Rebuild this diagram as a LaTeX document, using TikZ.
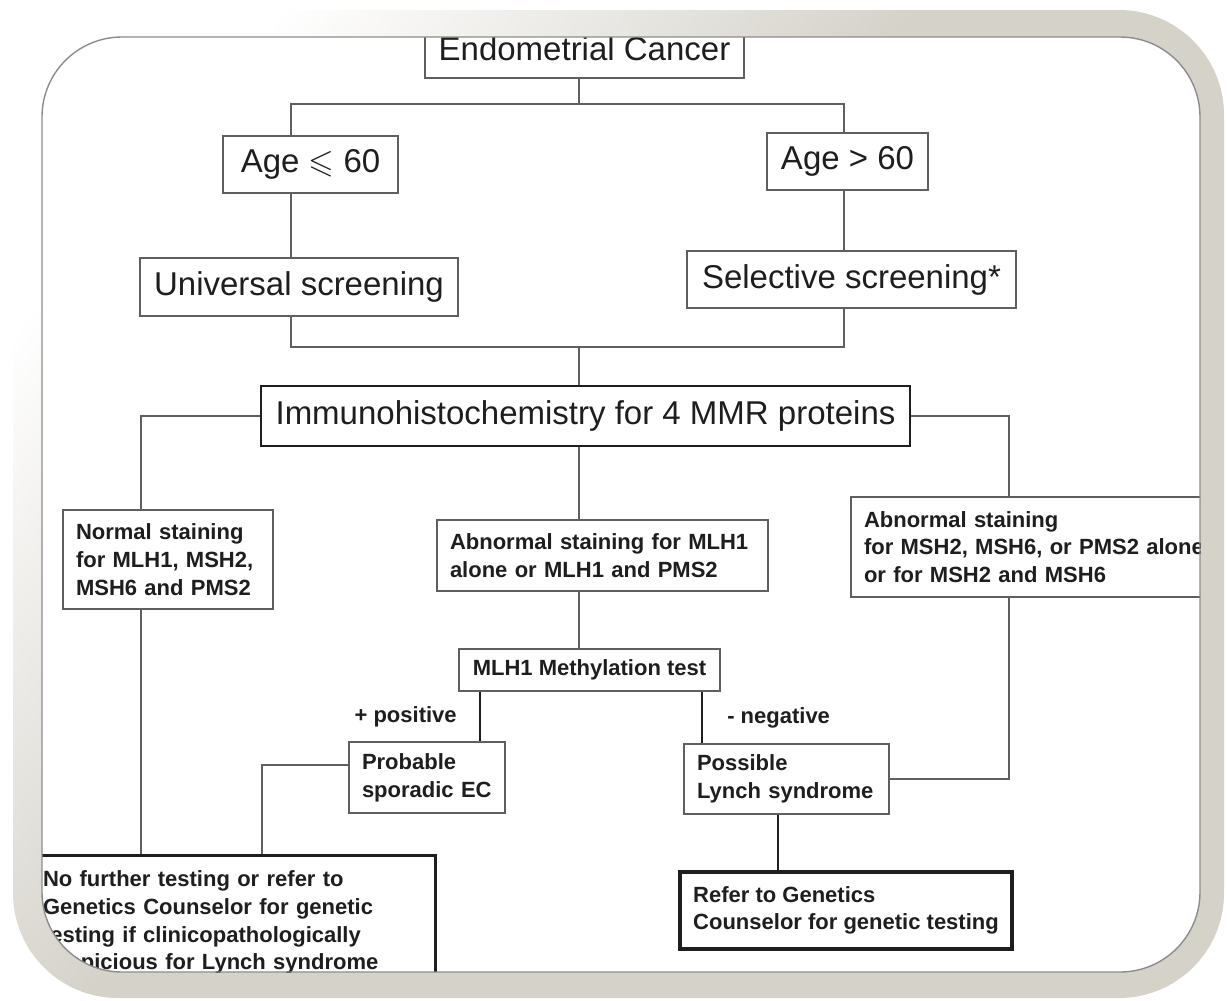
\documentclass[tikz,border=0pt]{standalone}
\usepackage{fontspec}
\setmainfont{Liberation Sans}
\usepackage{amssymb}
\usetikzlibrary{positioning,shadings}
\usepackage{xcolor}
\definecolor{framegray}{RGB}{213,210,202}
\definecolor{linegray} {RGB}{ 95, 95, 95}
\definecolor{inkdark}  {RGB}{ 30, 30, 30}
\definecolor{rimshade} {RGB}{140,140,140}
\newcommand{\Fbig}{\fontsize{33}{38}\selectfont}
\newcommand{\Fbold}{\bfseries\fontsize{22}{27.7}\selectfont}
\pgfdeclarehorizontalshading{framefade}{100bp}{color(0bp)=(white); color(24bp)=(white); color(46bp)=(framegray); color(100bp)=(framegray)}

\begin{document}
\begin{tikzpicture}[
    x=1pt, y=-1pt,
    box/.style={draw=linegray, rectangle, line width=1.3pt, inner sep=0pt, text=inkdark},
    headbox/.style={box, font=\Fbig, align=center},
    note/.style={box, font=\Fbold, align=left, inner xsep=13pt, text width=#1},
    link/.style={draw=linegray, line width=1.3pt},
    heavylink/.style={draw=inkdark, line width=2.6pt},
    lbl/.style={font=\Fbold, inner sep=0pt, text=inkdark}
]
    % --- frame ---
    \useasboundingbox (0,0) rectangle (1227,1001);
    \fill[white] (0,0) rectangle (1227,1001);
    \shade[rounded corners=105pt, shading=framefade, shading angle=-40] (13,10) rectangle (1224,998);
    \fill[white, rounded corners=80pt] (42,37) rectangle (1200,972);

    % --- columns and rows of the connectors ---
    \coordinate (col_left)  at (141,0);
    \coordinate (col_prob)  at (262,0);
    \coordinate (col_lo)    at (291,0);
    \coordinate (col_pos)   at (480,0);
    \coordinate (col_mid)   at (579,0);
    \coordinate (col_neg)   at (702,0);
    \coordinate (col_ref)   at (778,0);
    \coordinate (col_hi)    at (844,0);
    \coordinate (col_right) at (1009,0);
    \coordinate (row_top)   at (0,104);
    \coordinate (row_join)  at (0,347);

    \begin{scope}
    \clip[rounded corners=80pt] (42,37) rectangle (1200,972);

    % --- screening by age ---
    \node[headbox, minimum width=319pt, minimum height=58pt] (endo) at (584.5,49) {Endometrial Cancer};
    \node[headbox, minimum width=175pt, minimum height=57pt] (agelo) at (310.5,164.5) {Age $\leqslant$ 60};
    \node[headbox, minimum width=161pt, minimum height=57pt] (agehi) at (847.5,161.5) {Age > 60};
    \node[headbox, minimum width=318pt, minimum height=58pt] (univ) at (299,287) {Universal screening};
    \node[headbox, minimum width=329pt, minimum height=57pt] (selec) at (851.5,279.5) {Selective screening*};
    \node[headbox, draw=inkdark, line width=2.4pt, minimum width=649pt, minimum height=60pt] (ihc) at (585.5,416) {Immunohistochemistry for 4 MMR proteins};

    % --- staining results ---
    \node[note=184pt, minimum height=99pt] (normal) at (168,559.5) {Normal staining\\for MLH1, MSH2,\\MSH6 and PMS2};
    \node[note=305pt, minimum height=71pt] (abmid) at (602.5,555.5) {Abnormal staining for MLH1\\alone or MLH1 and PMS2};
    \node[note=353pt, minimum height=100pt] (abright) at (1040.5,547) {Abnormal staining\\for MSH2, MSH6, or PMS2 alone\\or for MSH2 and MSH6};

    % --- methylation and referral ---
    \node[box, font=\Fbold, minimum width=261pt, minimum height=42pt] (mlh) at (589.5,670) {MLH1 Methylation test};
    \node[note=130pt, minimum height=71pt] (probable) at (427,777.5) {Probable\\sporadic EC};
    \node[note=179pt, minimum height=70pt] (possible) at (786.5,779) {Possible\\Lynch syndrome};
    \node[note=379pt, draw=inkdark, line width=3pt, minimum height=135pt] (nofurther) at (232.5,922.5) {No further testing or refer to\\Genetics Counselor for genetic\\testing if clinicopathologically\\suspicious for Lynch syndrome};
    \node[box, font=\Fbold, align=left, draw=inkdark, line width=4.5pt, minimum width=332pt, minimum height=77pt] (refer) at (846,910.5) {Refer to Genetics\\Counselor for genetic testing};

    % --- connectors ---
    \draw[link] (endo.south -| col_mid) -- (row_top -| col_mid);
    \draw[link] (agelo.north -| col_lo) |- (row_top -| col_mid) -| (agehi.north -| col_hi);
    \draw[link] (agelo.south -| col_lo) -- (univ.north -| col_lo);
    \draw[link] (agehi.south -| col_hi) -- (selec.north -| col_hi);
    \draw[link] (univ.south -| col_lo) |- (row_join -| col_mid) -| (selec.south -| col_hi);
    \draw[link] (row_join -| col_mid) -- (ihc.north -| col_mid);
    \draw[link] (ihc.west) -| (normal.north -| col_left);
    \draw[link] (ihc.east) -| (abright.north -| col_right);
    \draw[link] (ihc.south -| col_mid) -- (abmid.north -| col_mid);
    \draw[link] (abmid.south -| col_mid) -- (mlh.north -| col_mid);
    \draw[heavylink] (mlh.south -| col_pos) -- node[lbl, left=22pt] {+ positive} (probable.north -| col_pos);
    \draw[heavylink] (mlh.south -| col_neg) -- node[lbl, right=24pt] {- negative} (possible.north -| col_neg);
    \draw[link] ([yshift=12.5pt]probable.west) -| (nofurther.north -| col_prob);
    \draw[link] (normal.south -| col_left) -- (nofurther.north -| col_left);
    \draw[link] (abright.south -| col_right) |- (possible.east);
    \draw[heavylink] (possible.south -| col_ref) -- (refer.north -| col_ref);
    \end{scope}

    \draw[rimshade, line width=1.4pt, rounded corners=80pt] (42,37) rectangle (1200,972);
\end{tikzpicture}
\end{document}
